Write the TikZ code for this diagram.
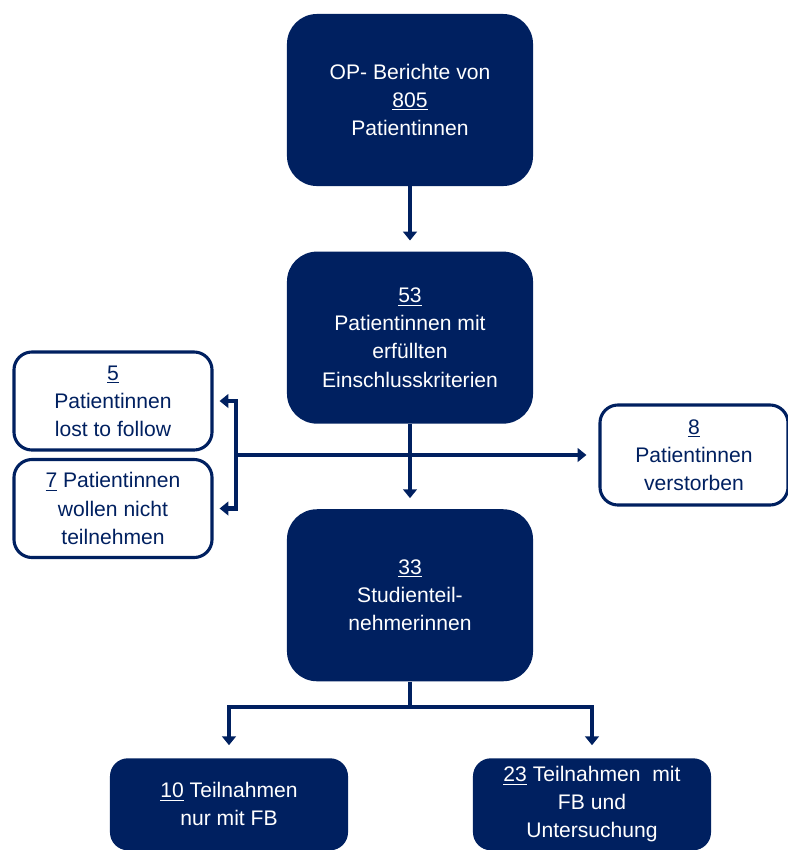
\documentclass[tikz,border=0pt]{standalone}
\usepackage{fontspec}
\setmainfont{Liberation Sans}
\usetikzlibrary{arrows.meta,positioning}
\definecolor{navy}{HTML}{002060}

\begin{document}
\begin{tikzpicture}[
    x=0.025cm, y=-0.025cm,
    node distance=1.625cm,
    darkbox/.style={rectangle, fill=navy, text=white, rounded corners=0.75cm, align=center, minimum width=6.15cm, minimum height=4.3cm, font=\fontsize{15}{20}\selectfont},
    sidebox/.style={rectangle, draw=navy, line width=2.2pt, fill=white, text=navy, rounded corners=0.45cm, align=center, font=\fontsize{15}{20}\selectfont},
    endbox/.style={rectangle, fill=navy, text=white, rounded corners=0.45cm, align=center, minimum width=5.95cm, minimum height=2.3cm, font=\fontsize{15}{20}\selectfont},
    line/.style={draw=navy, line width=3.5pt},
    arrow/.style={line, -{Triangle[length=2.2mm, width=3.4mm]}}
]
\useasboundingbox (0,0) rectangle (788,850);
\node[darkbox] (reports) at (410,100) {OP- Berichte von\\\underline{805}\\Patientinnen};
\node[darkbox, below=of reports] (included) {\underline{53}\\Patientinnen mit\\erfüllten\\Einschlusskriterien};
\node[darkbox, below=2.125cm of included] (study) {\underline{33}\\Studienteil-\\nehmerinnen};
\node[sidebox, minimum width=4.95cm, minimum height=2.45cm] (lost) at (113,401) {\underline{5}\\Patientinnen\\lost to follow};
\node[sidebox, minimum width=4.95cm, minimum height=2.45cm] (refused) at (113,508.5) {\underline{7} Patientinnen\\wollen nicht\\teilnehmen};
\node[sidebox, minimum width=4.7cm, minimum height=2.5cm] (died) at (694,455) {\underline{8}\\Patientinnen\\verstorben};
\node[endbox, anchor=north] (fbonly) at (229,758) {\underline{10} Teilnahmen\\nur mit FB};
\node[endbox, anchor=north] (fbexam) at (592,758) {\underline{23} Teilnahmen\ \ mit\\FB und\\Untersuchung};

\coordinate (split) at (236,455);
\coordinate (fork) at (410,707);

\draw[arrow, shorten >=0.27cm] (reports) -- (included);
\draw[arrow, shorten >=0.27cm] (included) -- (study);
\draw[arrow, shorten >=0.3cm] (split) -- (died.west);
\draw[arrow, shorten >=0.15cm] (split) |- (lost.east);
\draw[arrow, shorten >=0.15cm] (split) |- (refused.east);
\draw[line] (study) -- (fork);
\draw[arrow, shorten >=0.32cm] (fork) -| (fbonly.north);
\draw[arrow, shorten >=0.32cm] (fork) -| (fbexam.north);
\end{tikzpicture}
\end{document}
